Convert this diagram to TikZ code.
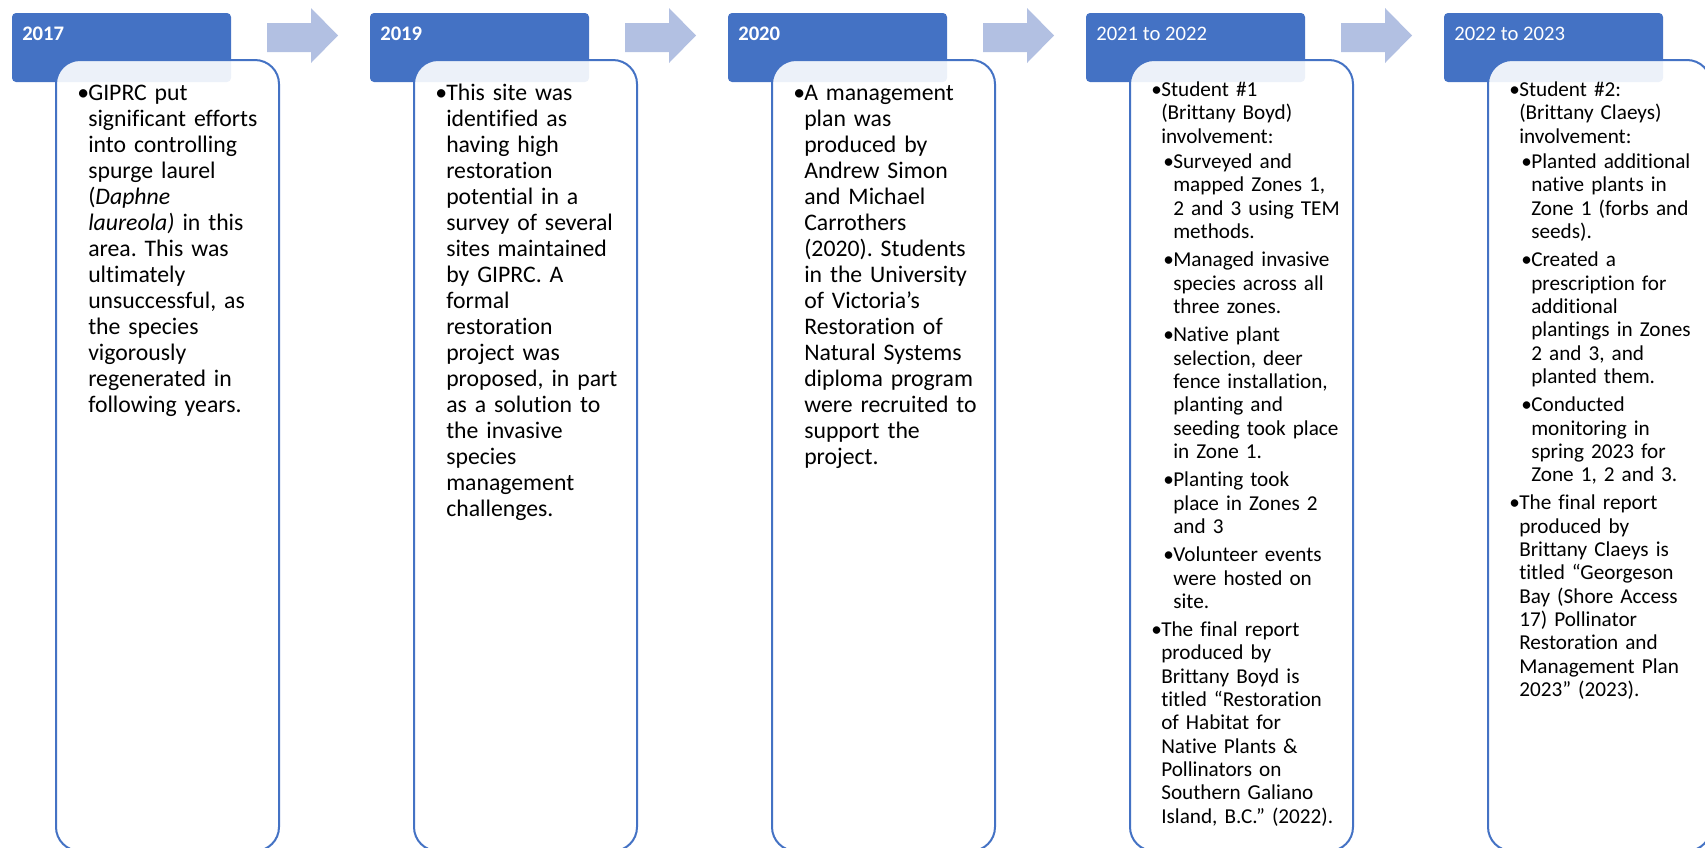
\documentclass[tikz,border=0pt]{standalone}
\usepackage{fontspec}
\setmainfont{Carlito}[Ligatures={NoCommon}]
\definecolor{hdrblue}{HTML}{4472C4}
\definecolor{arrowblue}{RGB}{178,192,226}
\newlength{\bulw}
\newlength{\subw}
\newcommand{\bigbody}{\frenchspacing\setlength{\bulw}{8.25pt}\setlength{\rightskip}{0pt plus 1fil}}
\newcommand{\smallbody}{\frenchspacing\setlength{\bulw}{7.5pt}\setlength{\subw}{9pt}\setlength{\rightskip}{0pt plus 1fil}}
\newcommand{\lvlfirst}{\setlength{\hangindent}{\bulw}\hangafter=1\relax\noindent\makebox[\bulw][l]{\textbullet}\ignorespaces}
\newcommand{\lvlone}{\par\setlength{\leftskip}{0pt}\setlength{\hangindent}{\bulw}\hangafter=1\relax\noindent\makebox[\bulw][l]{\textbullet}\ignorespaces}
\newcommand{\lvltwo}{\par\setlength{\leftskip}{\subw}\setlength{\hangindent}{7.5pt}\hangafter=1\relax\noindent\makebox[7.5pt][l]{\textbullet}\ignorespaces}
\newcommand{\itemgap}[1]{\par\vspace{#1}}

\begin{document}
\begin{tikzpicture}[x=0.75pt,y=-0.75pt,
    yearbox/.style={fill=hdrblue, rounded corners=3pt},
    textbox/.style={draw=hdrblue, line width=1.5pt, fill=white, fill opacity=0.9, rounded corners=18pt},
    stepArrow/.style={fill=arrowblue},
    yeartext/.style={text=white, inner sep=0pt, anchor=base west, font=\fontsize{15.5pt}{18pt}\selectfont},
    bodybig/.style={inner sep=0pt, anchor=base west, text width=150pt, font=\fontsize{17.8pt}{19.5pt}\selectfont},
    bodysmall/.style={inner sep=0pt, anchor=base west, text width=150pt, font=\fontsize{15.9pt}{17.5pt}\selectfont}]
  \useasboundingbox (0,0) rectangle (1705,847);
  \clip (0,0) rectangle (1705,847);

  % 2017
  \fill[yearbox] (12,13) rectangle (231,82);
  \node[yeartext] (yr1) at (22,40) {\bfseries 2017};
  \draw[textbox] (56,60) rectangle (279,851);
  \node[bodybig] (txt1) at (77,100) {\bigbody\lvlfirst GIPRC put\newline significant efforts\newline into controlling\newline spurge laurel\newline (\textit{Daphne}\newline \textit{laureola)} in this\newline area. This was\newline ultimately\newline unsuccessful, as\newline the species\newline vigorously\newline regenerated in\newline following years.\par};
  \fill[stepArrow] (267,23) -- (311,23) -- (311,8) -- (338,35.5) -- (311,63) -- (311,52) -- (267,52) -- cycle;

  % 2019
  \fill[yearbox] (370,13) rectangle (589,82);
  \node[yeartext] (yr2) at (380,40) {\bfseries 2019};
  \draw[textbox] (414,60) rectangle (637,851);
  \node[bodybig] (txt2) at (435,100) {\bigbody\lvlfirst This site was\newline identified as\newline having high\newline restoration\newline potential in a\newline survey of several\newline sites maintained\newline by GIPRC. A\newline formal\newline restoration\newline project was\newline proposed, in part\newline as a solution to\newline the invasive\newline species\newline management\newline challenges.\par};
  \fill[stepArrow] (625,23) -- (669,23) -- (669,8) -- (696,35.5) -- (669,63) -- (669,52) -- (625,52) -- cycle;

  % 2020
  \fill[yearbox] (728,13) rectangle (947,82);
  \node[yeartext] (yr3) at (738,40) {\bfseries 2020};
  \draw[textbox] (772,60) rectangle (995,851);
  \node[bodybig] (txt3) at (793,100) {\bigbody\lvlfirst A management\newline plan was\newline produced by\newline Andrew Simon\newline and Michael\newline Carrothers\newline (2020). Students\newline in the University\newline of Victoria’s\newline Restoration of\newline Natural Systems\newline diploma program\newline were recruited to\newline support the\newline project.\par};
  \fill[stepArrow] (983,23) -- (1027,23) -- (1027,8) -- (1054,35.5) -- (1027,63) -- (1027,52) -- (983,52) -- cycle;

  % 2021 to 2022
  \fill[yearbox] (1086,13) rectangle (1305,82);
  \node[yeartext] (yr4) at (1096,40) {2021 to 2022};
  \draw[textbox] (1130,60) rectangle (1353,851);
  \node[bodysmall] (txt4) at (1151,96.5) {\smallbody\lvlfirst Student \#1\newline (Brittany Boyd)\newline involvement:
    \itemgap{1.5pt}\lvltwo Surveyed and\newline mapped Zones 1,\newline 2 and 3 using TEM\newline methods.
    \itemgap{3.75pt}\lvltwo Managed invasive\newline species across all\newline three zones.
    \itemgap{3.75pt}\lvltwo Native plant\newline selection, deer\newline fence installation,\newline planting and\newline seeding took place\newline in Zone 1.
    \itemgap{3.75pt}\lvltwo Planting took\newline place in Zones 2\newline and 3
    \itemgap{3.75pt}\lvltwo Volunteer events\newline were hosted on\newline site.
    \itemgap{3.5pt}\lvlone The final report\newline produced by\newline Brittany Boyd is\newline titled “Restoration\newline of Habitat for\newline Native Plants \&\newline Pollinators on\newline Southern Galiano\newline Island, B.C.” (2022).\par};
  \fill[stepArrow] (1341,23) -- (1385,23) -- (1385,8) -- (1412,35.5) -- (1385,63) -- (1385,52) -- (1341,52) -- cycle;

  % 2022 to 2023
  \fill[yearbox] (1444,13) rectangle (1663,82);
  \node[yeartext] (yr5) at (1454,40) {2022 to 2023};
  \draw[textbox] (1488,60) rectangle (1711,851);
  \node[bodysmall] (txt5) at (1509,96.5) {\smallbody\lvlfirst Student \#2:\newline (Brittany Claeys)\newline involvement:
    \itemgap{1.5pt}\lvltwo Planted additional\newline native plants in\newline Zone 1 (forbs and\newline seeds).
    \itemgap{3.75pt}\lvltwo Created a\newline prescription for\newline additional\newline plantings in Zones\newline 2 and 3, and\newline planted them.
    \itemgap{3.75pt}\lvltwo Conducted\newline monitoring in\newline spring 2023 for\newline Zone 1, 2 and 3.
    \itemgap{3.5pt}\lvlone The final report\newline produced by\newline Brittany Claeys is\newline titled “Georgeson\newline Bay (Shore Access\newline 17) Pollinator\newline Restoration and\newline Management Plan\newline 2023” (2023).\par};
\end{tikzpicture}
\end{document}
